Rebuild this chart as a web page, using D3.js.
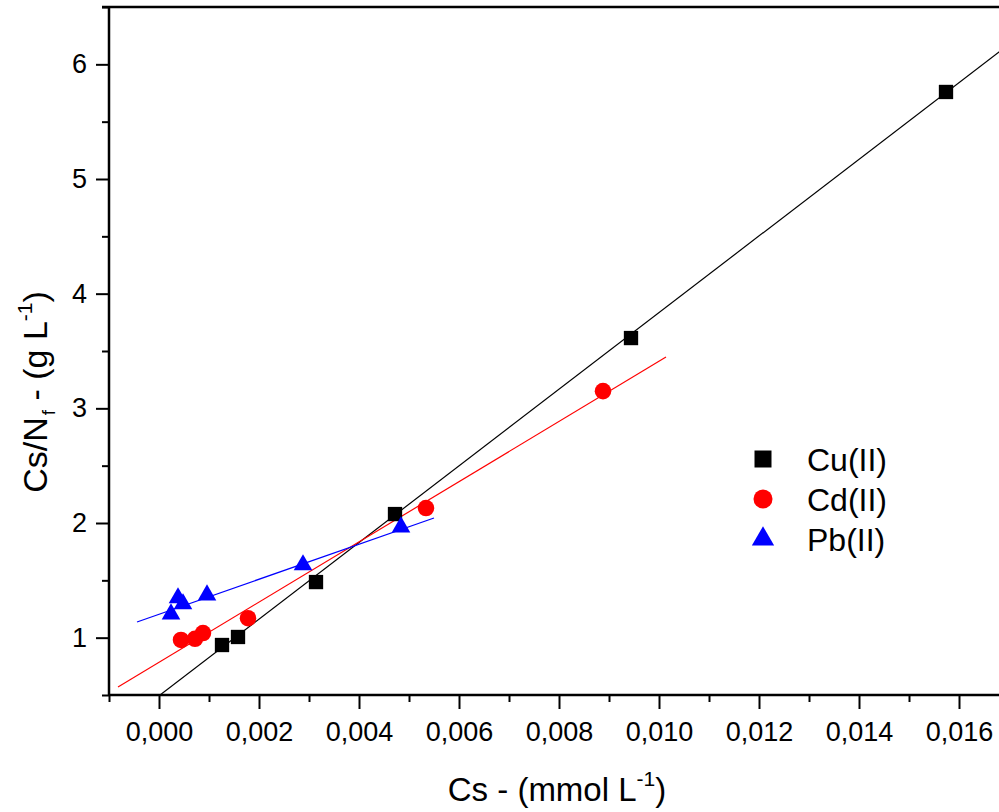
<!DOCTYPE html>
<html lang="en">
<head>
    <meta charset="UTF-8">
    <title>Cs/Nf vs Cs</title>
    <script src="https://d3js.org/d3.v7.min.js"></script>
    <style>
        body {
            margin: 0;
            background: #fff;
            font-family: Arial, "Liberation Sans", sans-serif;
        }
        svg text {
            font-family: Arial, "Liberation Sans", sans-serif;
            fill: #000;
        }
    </style>
</head>
<body>
    <div id="chart"></div>

    <script>
        // Data
        const cuX = [0.00126, 0.00158, 0.00314, 0.00472, 0.00944, 0.01574];
        const cuY = [0.936, 1.006, 1.485, 2.078, 3.613, 5.759];

        const cdX = [0.00044, 0.00072, 0.00088, 0.00178, 0.00534, 0.00888];
        const cdY = [0.98, 0.99, 1.04, 1.17, 2.13, 3.15];

        const pbX = [0.00024, 0.00038, 0.00048, 0.00096, 0.00288, 0.00484];
        const pbY = [1.206, 1.346, 1.294, 1.372, 1.634, 1.965];

        // Linear fits: [slope, intercept, xStart, xEnd]
        const cuFit = [334.2, 0.493, -0.001, 0.018];
        const cdFit = [262.6, 0.785, -0.00082, 0.01014];
        const pbFit = [152.7, 1.204, -0.00044, 0.0055];

        const seriesNames = ["Cu(II)", "Cd(II)", "Pb(II)"];
        const xTicks = [0, 0.002, 0.004, 0.006, 0.008, 0.010, 0.012, 0.014, 0.016];
        const yTicks = [1, 2, 3, 4, 5, 6];

        const W = 999, H = 812;
        const mLeft = 109, mTop = 7, mBottom = 695;

        const svg = d3.select("#chart")
            .append("svg")
            .attr("width", W)
            .attr("height", H);

        // Scales (plot continues past the right edge of the window)
        const x = d3.scaleLinear().domain([-0.001, 0.018]).range([mLeft, mLeft + 0.019 * 50000]);
        const y = d3.scaleLinear().domain([0.5, 6.5]).range([mBottom, mTop]);

        const fmt = d => d3.format(".3f")(d).replace(".", ",");

        // clip for the plot area
        svg.append("clipPath").attr("id", "plot")
            .append("rect")
            .attr("x", mLeft).attr("y", mTop)
            .attr("width", x.range()[1] - mLeft).attr("height", mBottom - mTop);

        // x axis, major + minor ticks
        const xAxis = svg.append("g")
            .attr("transform", `translate(0,${mBottom})`)
            .call(d3.axisBottom(x).tickValues(xTicks).tickFormat(fmt).tickSize(14).tickPadding(13));
        svg.append("g")
            .attr("transform", `translate(0,${mBottom})`)
            .call(d3.axisBottom(x).tickValues(d3.range(-0.001, 0.0185, 0.002)).tickFormat("").tickSize(7))
            .select(".domain").remove();

        // y axis, major + minor ticks
        const yAxis = svg.append("g")
            .attr("transform", `translate(${mLeft},0)`)
            .call(d3.axisLeft(y).tickValues(yTicks).tickFormat(d3.format("d")).tickSize(13).tickPadding(9));
        svg.append("g")
            .attr("transform", `translate(${mLeft},0)`)
            .call(d3.axisLeft(y).tickValues(d3.range(0.5, 6.6, 1)).tickFormat("").tickSize(7))
            .select(".domain").remove();

        svg.selectAll(".tick line").attr("stroke-width", 2);
        svg.selectAll(".domain").attr("stroke-width", 2.5);
        xAxis.select(".domain").attr("d", `M${mLeft},0H${W + 60}`);
        yAxis.select(".domain").attr("d", `M0,${mTop}V${mBottom}`);
        svg.selectAll(".tick text").attr("font-size", 27);

        // top frame line
        svg.append("line")
            .attr("x1", mLeft - 7).attr("x2", W + 60)
            .attr("y1", mTop).attr("y2", mTop)
            .attr("stroke", "#000").attr("stroke-width", 2.5);

        // fit lines
        const plot = svg.append("g").attr("clip-path", "url(#plot)");
        const fits = [[cuFit, "#000"], [cdFit, "#ff0000"], [pbFit, "#0000ff"]];
        fits.forEach(([f, col]) => {
            plot.append("line")
                .attr("x1", x(f[2])).attr("y1", y(f[0] * f[2] + f[1]))
                .attr("x2", x(f[3])).attr("y2", y(f[0] * f[3] + f[1]))
                .attr("stroke", col).attr("stroke-width", 1.2);
        });

        // markers (legend ones are drawn a bit bigger, as in the original)
        const series = [
            [cuX, cuY, d3.symbolSquare, "#000", 205, 289],
            [cdX, cdY, d3.symbolCircle, "#ff0000", 215, 285],
            [pbX, pbY, d3.symbolTriangle, "#0000ff", 150, 215]
        ];
        series.forEach(([xs, ys, type, col, size]) => {
            plot.selectAll(null)
                .data(xs.map((v, i) => [v, ys[i]]))
                .enter()
                .append("path")
                .attr("d", d3.symbol().type(type).size(size))
                .attr("transform", d => `translate(${x(d[0])},${y(d[1])})`)
                .attr("fill", col);
        });

        // legend
        const legend = svg.append("g").attr("transform", "translate(763,459)");
        series.forEach(([xs, ys, type, col, size, legSize], i) => {
            legend.append("path")
                .attr("d", d3.symbol().type(type).size(legSize))
                .attr("transform", `translate(0,${i * 40})`)
                .attr("fill", col);
            legend.append("text")
                .attr("x", 44).attr("y", i * 40 + 12)
                .attr("font-size", 32)
                .text(seriesNames[i]);
        });

        // axis titles
        const xt = svg.append("text")
            .attr("x", 557).attr("y", 801)
            .attr("text-anchor", "middle")
            .attr("font-size", 33);
        xt.append("tspan").text("Cs - (mmol L");
        xt.append("tspan").attr("font-size", 21).attr("dy", -15).text("-1");
        xt.append("tspan").attr("dy", 15).text(")");

        const yt = svg.append("text")
            .attr("transform", "translate(47,392) rotate(-90)")
            .attr("text-anchor", "middle")
            .attr("font-size", 34);
        yt.append("tspan").text("Cs/N");
        yt.append("tspan").attr("font-size", 19).attr("dy", 8).attr("dx", 2).text("f");
        yt.append("tspan").attr("dy", -8).text(" - (g L");
        yt.append("tspan").attr("font-size", 21).attr("dy", -15).text("-1");
        yt.append("tspan").attr("dy", 15).text(")");
    </script>
</body>
</html>
